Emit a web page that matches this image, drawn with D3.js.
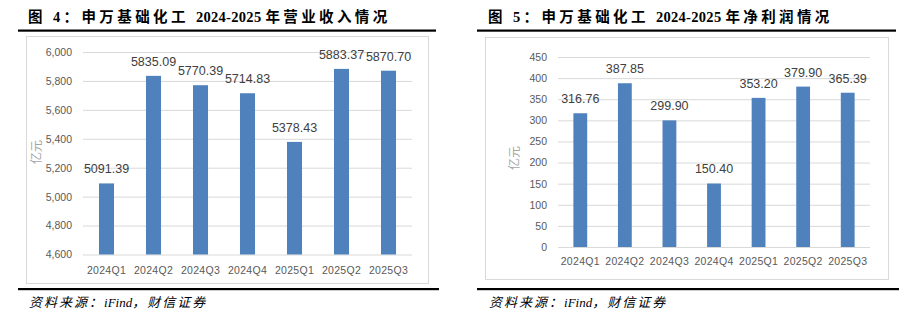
<!DOCTYPE html>
<html>
<head>
<meta charset="utf-8">
<script src="https://cdn.jsdelivr.net/npm/d3@7"></script>
<style>
  body { margin: 0; background: #fff; }
  svg { display: block; }
</style>
</head>
<body>
<script>
var quarters = ["2024Q1", "2024Q2", "2024Q3", "2024Q4", "2025Q1", "2025Q2", "2025Q3"];
var revenue = [5091.39, 5835.09, 5770.39, 5714.83, 5378.43, 5883.37, 5870.70];
var profit = [316.76, 387.85, 299.90, 150.40, 353.20, 379.90, 365.39];
var revenueTicks = [4600, 4800, 5000, 5200, 5400, 5600, 5800, 6000];
var profitTicks = [0, 50, 100, 150, 200, 250, 300, 350, 400, 450];

var svg = d3.select("body").append("svg").attr("width", 911).attr("height", 324);

function drawPanel(opt) {
	var g = svg.append("g");

	// title
	var title = g.append("text").attr("x", opt.titleX).attr("y", 22)
		.attr("font-family", "'Liberation Serif', 'Noto Sans CJK SC'")
		.attr("font-weight", "bold").attr("font-size", 14.5).attr("fill", "#000");
	title.append("tspan").attr("letter-spacing", 3.4).text(opt.title[0]);
	title.append("tspan").attr("letter-spacing", 0.3).text(opt.title[1]);
	title.append("tspan").attr("letter-spacing", 3.4).text(opt.title[2]);

	g.append("rect").attr("x", opt.lineX1).attr("y", 29.5).attr("width", opt.lineX2 - opt.lineX1).attr("height", 2.2).attr("fill", "#000");
	g.append("rect").attr("x", opt.lineX1).attr("y", 288).attr("width", opt.lineX2 - opt.lineX1 + 3).attr("height", 2.2).attr("fill", "#000");

	// chart box
	g.append("rect").attr("x", opt.box[0] + 0.5).attr("y", opt.box[1] + 0.5)
		.attr("width", opt.box[2] - opt.box[0]).attr("height", opt.box[3] - opt.box[1])
		.attr("fill", "#fff").attr("stroke", "#d9d9d9");

	var x = d3.scaleBand().domain(quarters).range([opt.plotX1, opt.plotX2]).paddingInner(opt.pad).paddingOuter(opt.pad / 2);
	var y = d3.scaleLinear().domain(opt.domain).range([opt.plotY2, opt.plotY1]);

	var yAxis = d3.axisLeft(y).tickValues(opt.ticks).tickSize(-(opt.plotX2 - opt.plotX1)).tickPadding(11).tickFormat(d3.format(","));
	var ya = g.append("g").attr("transform", "translate(" + opt.plotX1 + ",0)").call(yAxis);
	ya.select(".domain").remove();
	ya.selectAll("line").attr("stroke", "#d9d9d9");
	ya.selectAll("text").attr("fill", "#595959").attr("font-size", 10.5).attr("font-family", "'Liberation Sans', sans-serif");

	var xAxis = d3.axisBottom(x).tickSize(0).tickPadding(opt.xPad);
	var xa = g.append("g").attr("transform", "translate(0," + opt.plotY2 + ")").call(xAxis);
	xa.select(".domain").remove();
	xa.selectAll("text").attr("fill", "#595959").attr("font-size", 10.5).attr("letter-spacing", 0.3).attr("font-family", "'Liberation Sans', sans-serif");

	g.selectAll(".bar").data(opt.values).enter().append("rect")
		.attr("x", function(d, i) { return x(quarters[i]); })
		.attr("y", function(d) { return y(d); })
		.attr("width", x.bandwidth())
		.attr("height", function(d) { return opt.plotY2 - y(d); })
		.attr("fill", "#4f81bd");

	g.selectAll(".lbl").data(opt.values).enter().append("text")
		.attr("x", function(d, i) { return x(quarters[i]) + x.bandwidth() / 2; })
		.attr("y", function(d) { return y(d) - 10; })
		.attr("text-anchor", "middle").attr("font-size", 12.5).attr("fill", "#404040")
		.attr("font-family", "'Liberation Sans', sans-serif")
		.text(function(d) { return d.toFixed(2); });

	g.append("text").attr("transform", "translate(" + opt.unitX + "," + opt.unitY + ") rotate(-90)")
		.attr("text-anchor", "middle").attr("dominant-baseline", "central")
		.attr("font-size", 12).attr("fill", "#a6a6a6").attr("font-family", "'Noto Sans CJK SC'")
		.text("亿元");

	// source
	var src = g.append("text").attr("x", opt.titleX + 1).attr("y", 307)
		.attr("font-family", "'Liberation Serif', 'Noto Sans CJK SC'").attr("font-style", "italic")
		.attr("font-size", 13).attr("fill", "#000");
	src.append("tspan").attr("letter-spacing", 2).text("资料来源：");
	src.append("tspan").text("iFind");
	src.append("tspan").attr("letter-spacing", 2).text("，财信证券");
}

drawPanel({
	title: ["图 4：申万基础化工 ", "2024-2025 ", "年营业收入情况"],
	titleX: 28, lineX1: 18, lineX2: 436,
	box: [26, 36, 428, 283],
	plotX1: 83, plotX2: 412, plotY1: 52, plotY2: 254.5,
	pad: 0.68, domain: [4600, 6000], ticks: revenueTicks,
	values: revenue, xPad: 12, unitX: 35, unitY: 152
});

drawPanel({
	title: ["图 5：申万基础化工 ", "2024-2025 ", "年净利润情况"],
	titleX: 488, lineX1: 477, lineX2: 896,
	box: [485, 37, 888, 279],
	plotX1: 558, plotX2: 870, plotY1: 57, plotY2: 247,
	pad: 0.69, domain: [0, 450], ticks: profitTicks,
	values: profit, xPad: 11, unitX: 513, unitY: 158
});
</script>
</body>
</html>
